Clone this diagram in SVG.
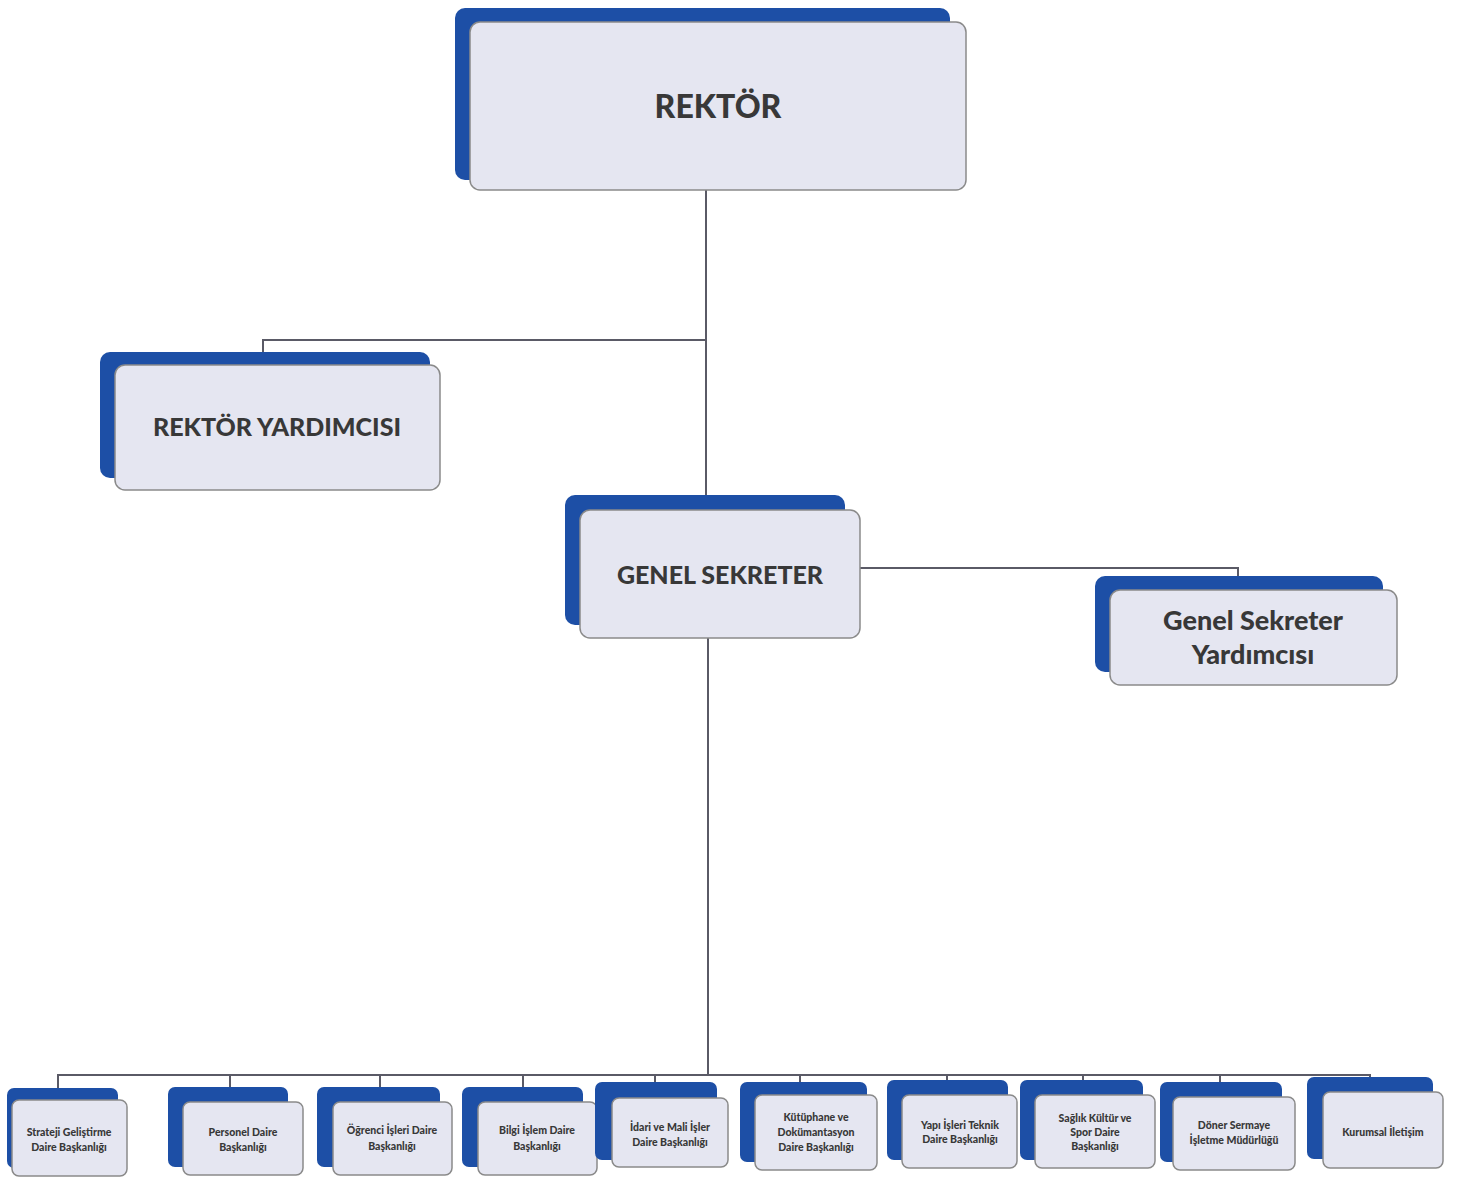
<svg xmlns="http://www.w3.org/2000/svg" width="1463" height="1178" viewBox="0 0 1463 1178">
<style>
.bk{fill:#1D4FA6;}
.fr{fill:#E5E6F1;stroke:#8A8A8A;stroke-width:1.5;}
.t{font-family:Lato,"Open Sans","Liberation Sans",sans-serif;font-weight:900;fill:#383838;text-anchor:middle;}
.s{font-size:10.5px;}
.ln{fill:none;stroke:#5A5A66;stroke-width:2;}
</style>
<rect width="1463" height="1178" fill="#FFFFFF"/>
<g id="connectors">
<path class="ln" d="M706,190 V497"/>
<path class="ln" d="M706,340 H263 V354"/>
<path class="ln" d="M860,568 H1238 V578"/>
<path class="ln" d="M708,638 V1074"/>
<path class="ln" d="M58,1090 V1075 H1370 V1079"/>
<path class="ln" d="M230,1075 V1089"/>
<path class="ln" d="M380,1075 V1089"/>
<path class="ln" d="M523,1075 V1089"/>
<path class="ln" d="M655,1075 V1084"/>
<path class="ln" d="M800,1075 V1084"/>
<path class="ln" d="M947,1075 V1082"/>
<path class="ln" d="M1083,1075 V1082"/>
<path class="ln" d="M1220,1075 V1084"/>
</g>
<g id="rektor">
<rect class="bk" x="455" y="8" width="495" height="172" rx="10"/>
<rect class="fr" x="470" y="22" width="496" height="168" rx="10"/>
<text class="t" x="718" y="118" font-size="32">REKTÖR</text>
</g>
<g id="rektor-yardimcisi">
<rect class="bk" x="100" y="352" width="330" height="126" rx="10"/>
<rect class="fr" x="115" y="365" width="325" height="125" rx="10"/>
<text class="t" x="277" y="436" font-size="25">REKTÖR YARDIMCISI</text>
</g>
<g id="genel-sekreter">
<rect class="bk" x="565" y="495" width="280" height="130" rx="10"/>
<rect class="fr" x="580" y="510" width="280" height="128" rx="10"/>
<text class="t" x="720" y="584" font-size="25">GENEL SEKRETER</text>
</g>
<g id="genel-sekreter-yardimcisi">
<rect class="bk" x="1095" y="576" width="288" height="96" rx="10"/>
<rect class="fr" x="1110" y="590" width="287" height="95" rx="10"/>
<text class="t" x="1253" y="630" font-size="27">Genel Sekreter</text>
<text class="t" x="1253" y="664" font-size="27">Yardımcısı</text>
</g>
<g id="n1">
<rect class="bk" x="7" y="1088" width="111" height="80" rx="7"/>
<rect class="fr" x="12" y="1100" width="115" height="76" rx="7"/>
<text class="t s" x="69" y="1136">Strateji Geliştirme</text>
<text class="t s" x="69" y="1151">Daire Başkanlığı</text>
</g>
<g id="n2">
<rect class="bk" x="168" y="1087" width="120" height="80" rx="7"/>
<rect class="fr" x="183" y="1102" width="120" height="73" rx="7"/>
<text class="t s" x="243" y="1136">Personel Daire</text>
<text class="t s" x="243" y="1151">Başkanlığı</text>
</g>
<g id="n3">
<rect class="bk" x="317" y="1087" width="123" height="80" rx="7"/>
<rect class="fr" x="333" y="1102" width="119" height="73" rx="7"/>
<text class="t s" x="392" y="1134">Öğrenci İşleri Daire</text>
<text class="t s" x="392" y="1150">Başkanlığı</text>
</g>
<g id="n4">
<rect class="bk" x="462" y="1087" width="121" height="80" rx="7"/>
<rect class="fr" x="478" y="1102" width="119" height="73" rx="7"/>
<text class="t s" x="537" y="1134">Bilgi İşlem Daire</text>
<text class="t s" x="537" y="1150">Başkanlığı</text>
</g>
<g id="n5">
<rect class="bk" x="595" y="1082" width="122" height="78" rx="7"/>
<rect class="fr" x="612" y="1098" width="116" height="69" rx="7"/>
<text class="t s" x="670" y="1131">İdari ve Mali İşler</text>
<text class="t s" x="670" y="1146">Daire Başkanlığı</text>
</g>
<g id="n6">
<rect class="bk" x="740" y="1082" width="127" height="80" rx="7"/>
<rect class="fr" x="755" y="1095" width="122" height="75" rx="7"/>
<text class="t s" x="816" y="1121">Kütüphane ve</text>
<text class="t s" x="816" y="1136">Dokümantasyon</text>
<text class="t s" x="816" y="1151">Daire Başkanlığı</text>
</g>
<g id="n7">
<rect class="bk" x="887" y="1080" width="121" height="80" rx="7"/>
<rect class="fr" x="902" y="1095" width="115" height="73" rx="7"/>
<text class="t s" x="960" y="1129">Yapı İşleri Teknik</text>
<text class="t s" x="960" y="1143">Daire Başkanlığı</text>
</g>
<g id="n8">
<rect class="bk" x="1020" y="1080" width="123" height="80" rx="7"/>
<rect class="fr" x="1035" y="1095" width="120" height="73" rx="7"/>
<text class="t s" x="1095" y="1122">Sağlık Kültür ve</text>
<text class="t s" x="1095" y="1136">Spor Daire</text>
<text class="t s" x="1095" y="1150">Başkanlığı</text>
</g>
<g id="n9">
<rect class="bk" x="1160" y="1082" width="122" height="80" rx="7"/>
<rect class="fr" x="1173" y="1097" width="122" height="73" rx="7"/>
<text class="t s" x="1234" y="1129">Döner Sermaye</text>
<text class="t s" x="1234" y="1144">İşletme Müdürlüğü</text>
</g>
<g id="n10">
<rect class="bk" x="1307" y="1077" width="126" height="82" rx="7"/>
<rect class="fr" x="1323" y="1092" width="120" height="76" rx="7"/>
<text class="t s" x="1383" y="1136">Kurumsal İletişim</text>
</g>
</svg>
